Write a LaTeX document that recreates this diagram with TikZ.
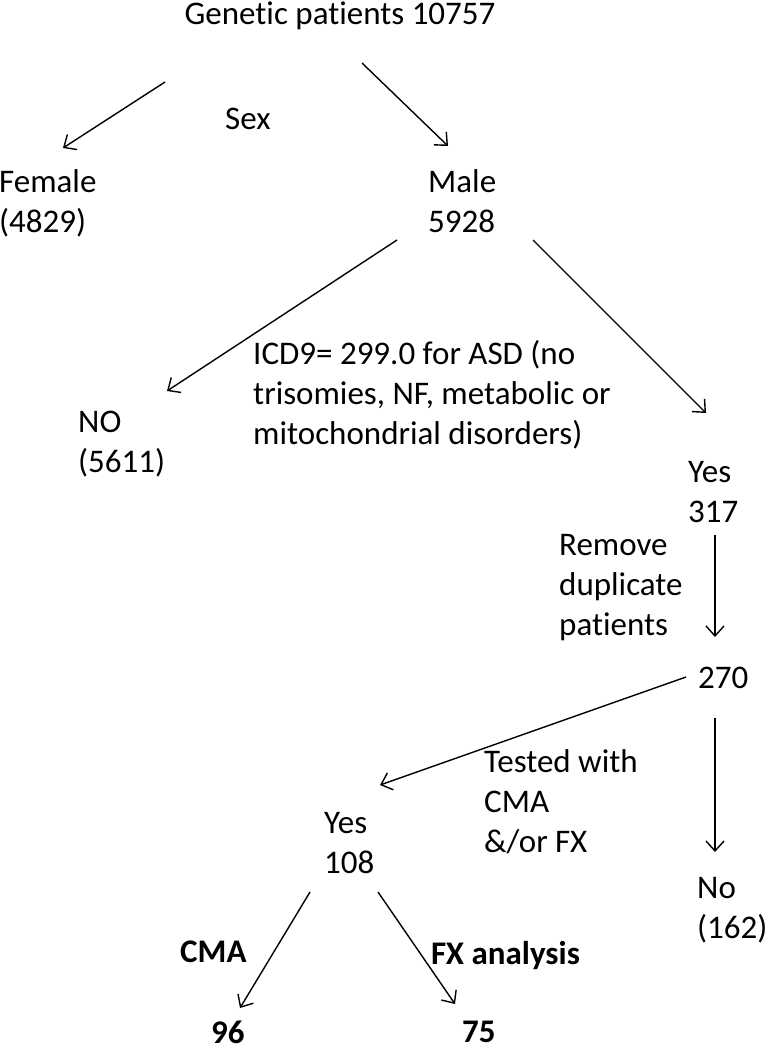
\documentclass[tikz,border=0pt]{standalone}
\usepackage{fontspec}
\setmainfont{Carlito}[Ligatures=NoCommon,Contextuals=NoAlternate]
\usetikzlibrary{arrows.meta}
\begin{document}
\begin{tikzpicture}[x=1pt,y=-1pt,
  lbl/.style={inner sep=0pt,anchor=north west,align=left,font=\fontsize{33}{40}\selectfont},
  blbl/.style={lbl,font=\fontsize{33}{40}\selectfont\bfseries},
  arr/.style={line width=1.4pt,-{Straight Barb[length=10pt,width=18pt]}}]
\useasboundingbox (0,0) rectangle (768,1050);
% labels
\node[lbl,anchor=north] (title) at (340,2) {Genetic patients 10757};
\node[lbl] (sex) at (225,108) {Sex};
\node[lbl] (female) at (-1,169) {Female\\(4829)};
\node[lbl] (male) at (428,169) {Male\\5928};
\node[lbl] (icd) at (253,340) {ICD9= 299.0 for ASD (no\\trisomies, NF, metabolic or\\mitochondrial disorders)};
\node[lbl] (no) at (78,411) {NO\\(5611)};
\node[lbl] (yes) at (688,461) {Yes\\317};
\node[lbl] (remove) at (559,534) {Remove\\duplicate\\patients};
\node[lbl] (twoseventy) at (698,667) {270};
\node[lbl] (tested) at (484,749) {Tested with\\CMA\\\&/or FX};
\node[lbl] (yestested) at (324,812) {Yes\\108};
\node[lbl] (notested) at (697,877) {No\\(162)};
\node[blbl] (cma) at (180,941) {CMA};
\node[blbl] (fx) at (431,941) {FX analysis};
\node[blbl] (ninetysix) at (211,1021) {96};
\node[blbl] (seventyfive) at (462,1021) {75};
% arrow ends
\coordinate (title-l) at (165,82);   \coordinate (female-t) at (63,148);
\coordinate (title-r) at (362,63);   \coordinate (male-t) at (448,146);
\coordinate (male-l) at (397,240);   \coordinate (no-t) at (167,391);
\coordinate (male-r) at (533,240);   \coordinate (yes-t) at (706,413);
\coordinate (yes-b) at (715,535);    \coordinate (twoseventy-t) at (715,637);
\coordinate (twoseventy-l) at (686,677); \coordinate (yestested-t) at (380,785);
\coordinate (twoseventy-b) at (715,718); \coordinate (notested-t) at (715,852);
\coordinate (yestested-l) at (310,892);  \coordinate (ninetysix-t) at (240,1008);
\coordinate (yestested-r) at (378,892);  \coordinate (seventyfive-t) at (455,1004);
\draw[arr] (title-l)--(female-t);
\draw[arr] (title-r)--(male-t);
\draw[arr] (male-l)--(no-t);
\draw[arr] (male-r)--(yes-t);
\draw[arr] (yes-b)--(twoseventy-t);
\draw[arr] (twoseventy-l)--(yestested-t);
\draw[arr] (twoseventy-b)--(notested-t);
\draw[arr] (yestested-l)--(ninetysix-t);
\draw[arr] (yestested-r)--(seventyfive-t);
\end{tikzpicture}
\end{document}
